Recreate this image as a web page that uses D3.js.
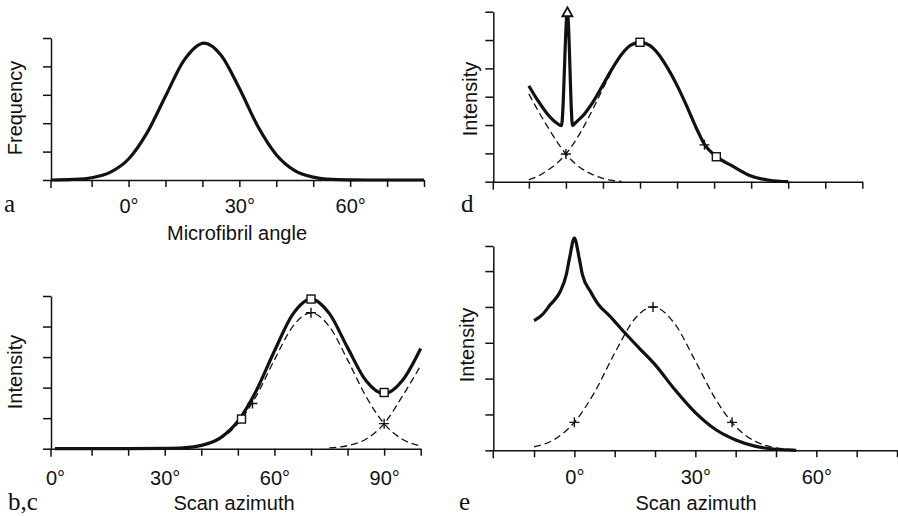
<!DOCTYPE html>
<html>
<head>
<meta charset="utf-8">
<script src="https://cdn.jsdelivr.net/npm/d3@7"></script>
<style>
  body { margin: 0; background: #fff; }
  svg { display: block; }
  .tick text { font-family: "Liberation Sans", Arial, sans-serif; font-size: 20px; fill: #111; }
  .axis path, .axis line { stroke: #111; stroke-width: 1.5; }
  .title { font-family: "Liberation Sans", Arial, sans-serif; font-size: 20px; fill: #111; }
  .letter { font-family: "Liberation Serif", "Times New Roman", serif; font-size: 25px; fill: #111; }
</style>
</head>
<body>
<svg id="chart" width="898" height="516"></svg>
<script>
// panel a: microfibril angle distribution
const aAngle = [-21, -15, -10, -5, 0, 5, 10, 15, 20.5, 25, 30, 35, 40, 45, 50, 55, 60, 65, 80];
const aFreq = [0, 0.02, 0.08, 0.27, 0.74, 1.66, 2.95, 4.21, 4.82, 4.40, 3.23, 1.89, 0.89, 0.33, 0.10, 0.02, 0.005, 0, 0];

// panel b,c: scan azimuth
const bAz = [0, 10, 20, 30, 35, 40, 45, 50, 55, 60, 65, 70, 75, 80, 85, 90, 95, 100];
const bSolid = [0, 0, 0, 0.01, 0.03, 0.11, 0.34, 0.90, 1.89, 3.20, 4.40, 4.90, 4.43, 3.31, 2.23, 1.80, 2.23, 3.28];
const bPeak1Az = [30, 35, 40, 45, 50, 55, 60, 65, 70, 75, 80, 85, 90, 95, 100];
const bPeak1 = [0, 0.025, 0.10, 0.31, 0.82, 1.72, 2.91, 4.00, 4.45, 4.00, 2.91, 1.72, 0.82, 0.31, 0.09];
const bPeak2Az = [75, 80, 85, 90, 95, 100];
const bPeak2 = [0.03, 0.10, 0.31, 0.82, 1.72, 2.72];
const bSquares = [[51, 0.97], [70, 4.90], [90, 1.84]];
const bPluses = [[54, 1.48], [70, 4.45], [90, 0.82]];

// panel d
const dAz = [-10, -7.5, -5, -2.5, -1.2, 0.4, 1.8, 2.5, 5, 7.5, 10, 12.5, 15, 17.5, 20, 22.5, 25, 27.5, 30, 32.5, 35, 37.5, 40, 45, 50, 55, 60];
const dSolid = [3.38, 2.85, 2.39, 2.07, 1.98, 5.98, 1.98, 2.07, 2.39, 2.85, 3.42, 3.99, 4.49, 4.82, 4.92, 4.82, 4.50, 4.00, 3.40, 2.70, 1.95, 1.30, 0.95, 0.55, 0.20, 0.05, 0];
const dLeftAz = [-10, -7.5, -5, -2.5, 0, 2.5, 5, 7.5, 10, 12.5, 15];
const dLeft = [3.1, 2.5, 1.95, 1.43, 0.98, 0.64, 0.40, 0.23, 0.12, 0.05, 0.01];
const dRightAz = [-10, -7.5, -5, -2.5, 0, 2.5, 5, 7.5, 10, 12.5];
const dRight = [0.07, 0.20, 0.40, 0.64, 0.98, 1.43, 1.99, 2.62, 3.29, 3.92];
const dTriangles = [[0.4, 5.98]];
const dSquares = [[20, 4.92], [40.6, 0.88]];
const dPluses = [[0, 0.98], [37.4, 1.30]];

// panel e
const eAz = [-10, -8, -6, -3.5, -2, -1.2, 0, 1.2, 2, 4, 6, 8.5, 12.5, 16, 20, 25, 30, 35, 40, 45, 50, 55];
const eSolid = [3.62, 3.78, 4.06, 4.43, 4.90, 5.36, 5.92, 5.36, 4.90, 4.43, 4.06, 3.78, 3.28, 2.86, 2.39, 1.68, 1.05, 0.58, 0.29, 0.11, 0.03, 0];
const eDashAz = [-10, -5, 0, 5, 10, 15, 19.5, 25, 30, 35, 40, 45, 50, 55];
const eDash = [0.095, 0.30, 0.78, 1.62, 2.71, 3.67, 4.0, 3.51, 2.49, 1.43, 0.66, 0.24, 0.07, 0.02];
const ePluses = [[0, 0.78], [19.5, 4.0], [39.1, 0.78]];

const xTicksA = [-20, -10, 0, 10, 20, 30, 40, 50, 60, 70, 80];
const xTicksB = [0, 10, 20, 30, 40, 50, 60, 70, 80, 90, 100];
const tickLabelsA = { 0: "0°", 30: "30°", 60: "60°" };
const tickLabelsB = { 0: "0°", 30: "30°", 60: "60°", 90: "90°" };

const svg = d3.select("#chart");
const zip = (xs, ys) => xs.map((x, i) => [x, ys[i]]);

function drawPanel(p) {
  const g = svg.append("g");
  const x = d3.scaleLinear().domain(p.xDomain).range(p.xRange);
  const y = d3.scaleLinear().domain(p.yDomain).range(p.yRange);
  const base = p.yRange[0];

  const xAxis = d3.axisBottom(x)
    .tickValues(p.xTicks)
    .tickSize(7)
    .tickSizeOuter(0)
    .tickPadding(p.tickPad)
    .tickFormat((d) => (p.labels && p.labels[d]) || "");
  const xg = g.append("g").attr("class", "axis")
    .attr("transform", `translate(0,${base})`)
    .call(xAxis);
  // a tick sitting right on the y axis is not drawn separately
  xg.selectAll(".tick line")
    .filter((d) => Math.abs(x(d) - p.xRange[0]) < 6)
    .remove();

  const yAxis = d3.axisLeft(y).tickValues(p.yTicks).tickSize(8).tickSizeOuter(0).tickFormat("");
  g.append("g").attr("class", "axis")
    .attr("transform", `translate(${p.xRange[0]},0)`)
    .call(yAxis);

  // y axis runs a little below the baseline
  g.append("line")
    .attr("x1", p.xRange[0]).attr("x2", p.xRange[0])
    .attr("y1", base).attr("y2", base + 8)
    .attr("stroke", "#111").attr("stroke-width", 1.5);

  const line = d3.line()
    .x((d) => x(d[0]))
    .y((d) => y(d[1]))
    .curve(d3.curveMonotoneX);

  (p.dashed || []).forEach((pts) => {
    g.append("path")
      .attr("d", line(pts))
      .attr("fill", "none")
      .attr("stroke", "#111")
      .attr("stroke-width", 1.3)
      .attr("stroke-dasharray", "7,4");
  });

  g.append("path")
    .attr("d", line(p.solid))
    .attr("fill", "none")
    .attr("stroke", "#111")
    .attr("stroke-width", 3.2)
    .attr("stroke-linejoin", "round");

  (p.pluses || []).forEach((d) => {
    const cx = x(d[0]), cy = y(d[1]);
    g.append("path")
      .attr("d", `M${cx - 5},${cy}H${cx + 5}M${cx},${cy - 5}V${cy + 5}`)
      .attr("stroke", "#111").attr("stroke-width", 1.4);
  });

  (p.squares || []).forEach((d) => {
    g.append("rect")
      .attr("x", x(d[0]) - 4).attr("y", y(d[1]) - 4)
      .attr("width", 8).attr("height", 8)
      .attr("fill", "#fff").attr("stroke", "#111").attr("stroke-width", 1.4);
  });

  (p.triangles || []).forEach((d) => {
    const cx = x(d[0]), cy = y(d[1]);
    g.append("path")
      .attr("d", `M${cx},${cy - 5}L${cx + 5},${cy + 4}L${cx - 5},${cy + 4}Z`)
      .attr("fill", "#fff").attr("stroke", "#111").attr("stroke-width", 1.8);
  });

  g.append("text").attr("class", "title")
    .attr("transform", `translate(${p.yTitlePos[0]},${p.yTitlePos[1]}) rotate(-90)`)
    .attr("text-anchor", "middle")
    .attr("dy", "0.35em")
    .text(p.yTitle);

  if (p.xTitle) {
    g.append("text").attr("class", "title")
      .attr("x", p.xTitlePos[0]).attr("y", p.xTitlePos[1])
      .attr("text-anchor", "middle")
      .text(p.xTitle);
  }

  g.append("text").attr("class", "letter")
    .attr("x", p.letterPos[0]).attr("y", p.letterPos[1])
    .text(p.letter);
}

drawPanel({
  xDomain: [-21, 80], xRange: [51, 424],
  yDomain: [0, 5], yRange: [180, 38],
  xTicks: xTicksA, labels: tickLabelsA, tickPad: 12,
  yTicks: [0, 1, 2, 3, 4, 5],
  solid: zip(aAngle, aFreq),
  yTitle: "Frequency", yTitlePos: [15, 108],
  xTitle: "Microfibril angle", xTitlePos: [237, 240],
  letter: "a", letterPos: [4, 212]
});

drawPanel({
  xDomain: [-1.1, 100], xRange: [51, 420.7],
  yDomain: [0, 5], yRange: [448.7, 296],
  xTicks: xTicksB, labels: tickLabelsB, tickPad: 15,
  yTicks: [0, 1, 2, 3, 4, 5],
  solid: zip(bAz, bSolid),
  dashed: [zip(bPeak1Az, bPeak1), zip(bPeak2Az, bPeak2)],
  squares: bSquares, pluses: bPluses,
  yTitle: "Intensity", yTitlePos: [15, 372],
  xTitle: "Scan azimuth", xTitlePos: [234, 510],
  letter: "b,c", letterPos: [8, 510]
});

drawPanel({
  xDomain: [-19.6, 80], xRange: [493.3, 862.3],
  yDomain: [0, 6], yRange: [181.7, 11.7],
  xTicks: xTicksA.slice(1), labels: null, tickPad: 12,
  yTicks: [0, 1, 2, 3, 4, 5, 6],
  solid: zip(dAz, dSolid),
  dashed: [zip(dLeftAz, dLeft), zip(dRightAz, dRight)],
  squares: dSquares, pluses: dPluses, triangles: dTriangles,
  yTitle: "Intensity", yTitlePos: [470, 99],
  letter: "d", letterPos: [461, 212]
});

drawPanel({
  xDomain: [-20.1, 80], xRange: [493.3, 897],
  yDomain: [0, 5.7], yRange: [450.3, 246],
  xTicks: xTicksA.slice(1), labels: tickLabelsA, tickPad: 13,
  yTicks: [0, 1, 2, 3, 4, 5, 5.7],
  solid: zip(eAz, eSolid),
  dashed: [zip(eDashAz, eDash)],
  pluses: ePluses,
  yTitle: "Intensity", yTitlePos: [467, 345],
  xTitle: "Scan azimuth", xTitlePos: [696, 510],
  letter: "e", letterPos: [459, 510]
});
</script>
</body>
</html>
